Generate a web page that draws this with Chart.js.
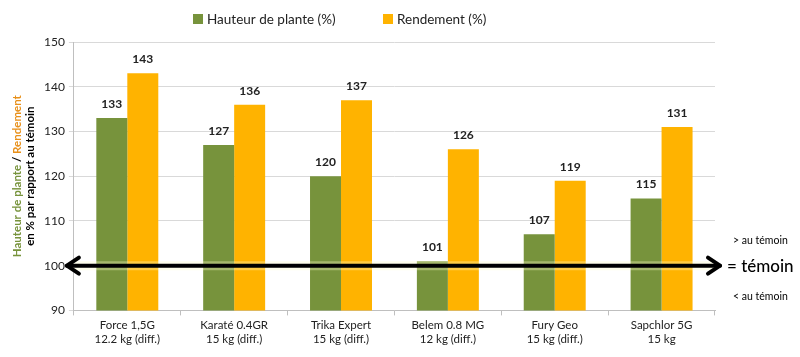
<!DOCTYPE html>
<html><head><meta charset="utf-8">
<script src="https://cdn.jsdelivr.net/npm/chart.js@4/dist/chart.umd.min.js"></script>
<style>html,body{margin:0;padding:0;background:#fff}#wrap{width:800px;height:357px}</style>
</head><body><div id="wrap"><canvas id="c" width="800" height="357"></canvas></div>
<script>
const categories = [["Force 1,5G","12.2 kg (diff.)"],["Karaté 0.4GR","15 kg (diff.)"],["Trika Expert","15 kg (diff.)"],["Belem 0.8 MG","12 kg (diff.)"],["Fury Geo","15 kg (diff.)"],["Sapchlor 5G","15 kg"]];
const hauteur = [133,127,120,101,107,115];
const rendement = [143,136,137,126,119,131];
const seriesNames = ["Hauteur de plante (%)","Rendement (%)"];
const yTicks = [90,100,110,120,130,140,150];
const refValue = 100;

const FONT = "Lato, 'Open Sans', sans-serif";
const GREEN = '#77933C', ORANGE = '#FFB300';

const labelsPlugin = {
  id:'vals',
  afterDatasetsDraw(chart){
    const ctx = chart.ctx;
    ctx.save();
    ctx.font = "bold 12px " + FONT;
    ctx.fillStyle = '#222';
    ctx.textAlign = 'center';
    ctx.textBaseline = 'bottom';
    chart.data.datasets.forEach((ds,i)=>{
      chart.getDatasetMeta(i).data.forEach((bar,j)=>{
        ctx.fillText(String(ds.data[j]), bar.x, bar.y - 8);
      });
    });
    ctx.restore();
  }
};

const legendPlugin = {
  id:'customLegend',
  afterDraw(chart){
    const ctx = chart.ctx;
    ctx.save();
    ctx.font = "13.5px " + FONT;
    ctx.textBaseline = 'middle';
    ctx.textAlign = 'left';
    const starts = [193, 383];
    chart.data.datasets.forEach((ds,i)=>{
      const x = starts[i];
      ctx.fillStyle = ds.backgroundColor;
      ctx.fillRect(x, 14, 10, 10);
      ctx.fillStyle = '#222';
      ctx.fillText(ds.label, x + 14, 19.5);
    });
    ctx.restore();
  }
};

const arrowPlugin = {
  id:'arrow',
  afterDatasetsDraw(chart){
    const ctx = chart.ctx, ca = chart.chartArea;
    const y = chart.scales.y.getPixelForValue(refValue);
    const x0 = ca.left - 7, x1 = ca.right + 5;
    ctx.save();
    ctx.strokeStyle = 'rgba(255,255,200,0.35)';
    ctx.lineWidth = 9;
    ctx.beginPath(); ctx.moveTo(x0+4,y); ctx.lineTo(x1-4,y); ctx.stroke();
    ctx.strokeStyle = '#000';
    ctx.lineWidth = 4;
    ctx.lineCap = 'round'; ctx.lineJoin='round';
    ctx.beginPath(); ctx.moveTo(x0,y); ctx.lineTo(x1,y); ctx.stroke();
    ctx.beginPath(); ctx.moveTo(x0+12,y-8); ctx.lineTo(x0,y); ctx.lineTo(x0+12,y+8); ctx.stroke();
    ctx.beginPath(); ctx.moveTo(x1-12,y-8); ctx.lineTo(x1,y); ctx.lineTo(x1-12,y+8); ctx.stroke();
    ctx.fillStyle = '#000';
    ctx.textBaseline = 'middle';
    ctx.textAlign = 'left';
    ctx.font = "500 17px " + FONT;
    ctx.fillText('= témoin', x1 + 7, y + 1);
    ctx.font = "10.5px " + FONT;
    ctx.fillText('> au témoin', x1 + 13, y - 25);
    ctx.fillText('< au témoin', x1 + 13, y + 31);
    // y-axis title
    const cy = (ca.top + ca.bottom)/2 + 0;
    ctx.translate(0, cy);
    ctx.rotate(-Math.PI/2);
    ctx.textAlign = 'left';
    ctx.font = "bold 11.5px " + FONT;
    const p1 = 'Hauteur de plante', p2 = ' / ', p3 = 'Rendement';
    const w1 = ctx.measureText(p1).width, w2 = ctx.measureText(p2).width, w3 = ctx.measureText(p3).width;
    let sx = -(w1+w2+w3)/2;
    ctx.fillStyle = GREEN; ctx.fillText(p1, sx, 17);
    ctx.fillStyle = '#000'; ctx.fillText(p2, sx+w1, 17);
    ctx.fillStyle = '#E8901A'; ctx.fillText(p3, sx+w1+w2, 17);
    ctx.textAlign = 'center';
    ctx.fillStyle = '#000';
    ctx.fillText('en % par rapport au témoin', 0, 30);
    ctx.restore();
  }
};

new Chart(document.getElementById('c'), {
  type:'bar',
  data:{
    labels: categories,
    datasets:[
      {label: seriesNames[0], data: hauteur, backgroundColor: GREEN, categoryPercentage:0.58, barPercentage:1},
      {label: seriesNames[1], data: rendement, backgroundColor: ORANGE, categoryPercentage:0.58, barPercentage:1}
    ]
  },
  options:{
    responsive:false,
    animation:false,
    layout:{padding:{left:40, right:85, top:42, bottom:8}},
    plugins:{
      legend:{display:false},
      tooltip:{enabled:false}
    },
    scales:{
      x:{
        grid:{display:true, drawOnChartArea:false, offset:true, tickLength:5, color:'#bfbfbf'},
        border:{color:'#bfbfbf'},
        ticks:{font:{family:FONT, size:11.5}, color:'#222', padding:3, maxRotation:0}
      },
      y:{
        min:90, max:150,
        afterBuildTicks(axis){ axis.ticks = yTicks.map(v=>({value:v})); },
        grid:{color:'#d9d9d9', tickLength:5},
        border:{color:'#bfbfbf'},
        ticks:{font:{family:FONT, size:12}, color:'#222', padding:4}
      }
    }
  },
  plugins:[labelsPlugin, arrowPlugin, legendPlugin]
});
</script></body></html>
